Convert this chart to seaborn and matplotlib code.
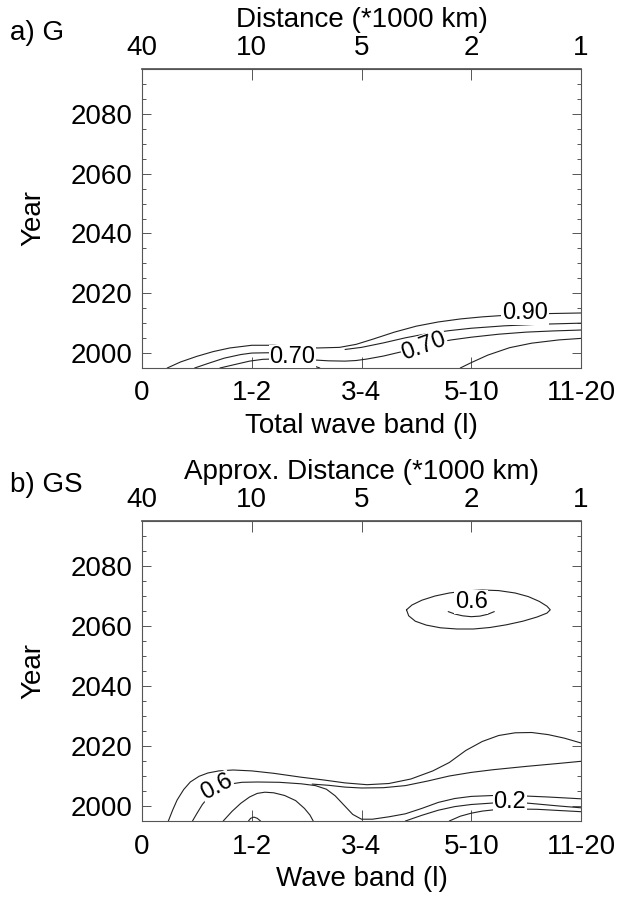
import numpy as np
import matplotlib
matplotlib.use("Agg")
import matplotlib.pyplot as plt
import seaborn as sns

# x positions 0..4 are the wave bands, top axis shows approx. distance
band_labels = ["0", "1-2", "3-4", "5-10", "11-20"]
dist_labels = ["40", "10", "5", "2", "1"]
year_ticks = [2000, 2020, 2040, 2060, 2080]

# ---- panel a) G : contour lines (band index, year)
g_090_x = [0.23, 0.35, 0.5, 0.65, 0.8, 1.0, 1.2, 1.4, 1.6, 1.8, 1.95, 2.1, 2.3, 2.5, 2.7, 2.9, 3.1, 3.3, 3.5, 3.7, 4.0]
g_090_y = [1995, 1997, 1998.9, 2000.5, 2001.7, 2002.6, 2002.6, 2002.1, 2001.7, 2001.9, 2002.9, 2004.6, 2007.0, 2009.0, 2010.4, 2011.4, 2012.1, 2012.6, 2013.0, 2013.2, 2013.4]
g_080_x = [1.85, 2.0, 2.2, 2.4, 2.6, 2.8, 3.0, 3.3, 3.6, 4.0]
g_080_y = [2001.2, 2001.9, 2003.4, 2005.1, 2006.5, 2007.5, 2008.3, 2009.1, 2009.6, 2010.0]
g_070_x = [0.48, 0.6, 0.75, 0.9, 1.0, 1.15, 1.3, 1.45, 1.56, 1.7, 1.85, 1.95, 2.05, 2.2, 2.35, 2.5, 2.65, 2.82, 3.0, 3.25, 3.5, 3.75, 4.0]
g_070_y = [1995, 1996.5, 1998.3, 1999.5, 2000.0, 2000.1, 1999.3, 1998.3, 1997.7, 1997.4, 1997.3, 1997.5, 1998.0, 1999.0, 2000.3, 2001.8, 2003.3, 2004.4, 2005.3, 2006.3, 2007.0, 2007.4, 2007.7]
g_060a_x = [0.71, 0.85, 0.98, 1.1, 1.2, 1.3, 1.4, 1.5, 1.58, 1.62]
g_060a_y = [1995, 1996.2, 1997.3, 1997.9, 1998.0, 1997.8, 1997.2, 1996.3, 1995.5, 1995]
g_060b_x = [2.9, 3.0, 3.15, 3.35, 3.55, 3.8, 4.0]
g_060b_y = [1995, 1996.8, 1999.3, 2001.8, 2003.3, 2004.4, 2004.9]

# ---- panel b) GS
gs_m1_x = [0.24, 0.28, 0.32, 0.38, 0.44, 0.52, 0.6, 0.7, 0.83, 1.0, 1.2, 1.45, 1.65, 1.85, 2.05, 2.25, 2.45, 2.65, 2.8, 2.95, 3.1, 3.25, 3.4, 3.55, 3.7, 3.85, 4.0]
gs_m1_y = [1995, 1998.7, 2002, 2005.5, 2008, 2009.9, 2011, 2011.7, 2012, 2011.7, 2010.9, 2009.6, 2008.7, 2007.7, 2007.1, 2007.5, 2009, 2011.7, 2014.5, 2018.5, 2021.5, 2023.5, 2024.4, 2024.5, 2023.8, 2022.6, 2021]
gs_m2_x = [0.46, 0.5, 0.55, 0.62, 0.7, 0.8, 0.91, 1.05, 1.25, 1.45, 1.58, 1.68, 1.76, 1.84, 1.92, 2.0, 2.1, 2.25, 2.4, 2.55, 2.7, 2.85, 3.0, 3.2, 3.45, 3.7, 4.0]
gs_m2_y = [1995, 1997.5, 2000.5, 2003.6, 2005.8, 2007.3, 2007.9, 2008.0, 2007.9, 2007.4, 2006.8, 2005.6, 2003.4, 2000.3, 1997.2, 1995.6, 1995.6, 1996.4, 1997.4, 1999.2, 2001.2, 2002.5, 2003.2, 2003.5, 2003.4, 2003.0, 2002.4]
gs_p_x = [1.55, 1.7, 1.85, 2.0, 2.2, 2.4, 2.6, 2.8, 3.0, 3.2, 3.5, 3.8, 4.0]
gs_p_y = [2007.3, 2006.9, 2006.3, 2006.0, 2006.1, 2006.8, 2008.3, 2010.0, 2011.2, 2012.1, 2013.2, 2014.2, 2014.9]
gs_m3_x = [0.74, 0.82, 0.9, 0.98, 1.05, 1.12, 1.2, 1.3, 1.4, 1.48, 1.53, 1.56]
gs_m3_y = [1995, 1998.2, 2000.9, 2003, 2004.2, 2004.6, 2004.4, 2003.5, 2001.8, 1999.2, 1997, 1995]
gs_m4_x = [0.97, 0.99, 1.02, 1.05, 1.08]
gs_m4_y = [1995, 1995.9, 1996.3, 1995.9, 1995]
gs_r_x = [2.4, 2.55, 2.7, 2.85, 3.0, 3.2, 3.35, 3.5, 3.65, 3.8, 4.0]
gs_r_y = [1995, 1996.9, 1998.6, 1999.8, 2000.5, 2001.0, 2001.2, 2001.0, 2000.5, 2000.0, 1999.4]
gs_s_x = [2.8, 2.9, 3.0, 3.1, 3.2, 3.4, 3.6, 3.8, 4.0]
gs_s_y = [1995, 1996.6, 1997.6, 1998.3, 1998.7, 1999.0, 1998.9, 1998.5, 1998.1]
gs_ell_x = [2.41, 2.46, 2.55, 2.67, 2.8, 2.95, 3.1, 3.25, 3.4, 3.52, 3.62, 3.69, 3.72, 3.69, 3.6, 3.47, 3.32, 3.17, 3.02, 2.87, 2.72, 2.59, 2.49, 2.43, 2.41]
gs_ell_y = [2065.4, 2067.0, 2068.6, 2070.0, 2071.0, 2071.7, 2072.0, 2071.8, 2071.0, 2069.8, 2068.2, 2066.6, 2065.4, 2064.3, 2063.0, 2061.6, 2060.4, 2059.5, 2059.0, 2059.0, 2059.4, 2060.3, 2061.6, 2063.4, 2065.4]
gs_in_x = [2.79, 2.85, 2.92, 3.0, 3.08, 3.15, 3.21]
gs_in_y = [2064.8, 2064.0, 2063.4, 2063.1, 2063.3, 2063.9, 2064.8]

LINE = "#222222"
SPINE = "#555555"
W, H = 629, 897

sns.set_theme(style="ticks")
plt.rcParams['font.family'] = ['Liberation Sans', 'DejaVu Sans']
plt.rcParams['text.color'] = 'black'
plt.rcParams['xtick.labelcolor'] = 'black'
plt.rcParams['ytick.labelcolor'] = 'black'

fig = plt.figure(figsize=(W / 100, H / 100), dpi=100)


def setup_axes(ax, xlabel, toplabel, tag, top_px, bottom_px):
    ax.set_xlim(0, 4)
    ax.set_ylim(1995, 2095)
    ax.set_xticks(range(5))
    ax.set_xticklabels(band_labels)
    ax.set_yticks(year_ticks)
    ax.set_yticks(np.arange(1995, 2096, 5), minor=True)
    ax.tick_params(axis='x', which='major', direction='in', length=8, width=0.7,
                   color=SPINE, labelsize=20, pad=9)
    ax.tick_params(axis='y', which='major', direction='in', length=6.5, width=0.7,
                   color=SPINE, labelsize=20, pad=7, right=True)
    ax.tick_params(axis='y', which='minor', direction='in', length=3, width=0.7,
                   color=SPINE, right=True)
    for sp in ax.spines.values():
        sp.set_color(SPINE)
        sp.set_linewidth(0.8)
    ax.set_xlabel("")
    ax.set_ylabel("")

    top = ax.secondary_xaxis('top')
    top.set_xticks(range(5))
    top.set_xticklabels(dist_labels)
    top.tick_params(direction='in', length=8, width=0.7, color=SPINE,
                    labelsize=20, pad=6)
    top.spines['top'].set_color(SPINE)

    cx = (142 + 581) / 2 / W
    fig.text(cx, 1 - (top_px - 49) / H, toplabel, ha='center', va='center', fontsize=20)
    fig.text(10 / W, 1 - (top_px - 36) / H, tag, ha='left', va='center', fontsize=20)
    fig.text(33 / W, 1 - (top_px + bottom_px) / 2 / H, "Year", ha='center', va='center',
             rotation=90, fontsize=20)
    fig.text(cx, 1 - (bottom_px + 58) / H, xlabel, ha='center', va='center', fontsize=20)


def draw(ax, xs, ys):
    sns.lineplot(x=xs, y=ys, sort=False, estimator=None, color=LINE,
                 linewidth=0.8, ax=ax, legend=False)


def clabel(ax, x, y, text, rot=0):
    ax.text(x, y, text, ha='center', va='center', rotation=rot, fontsize=17,
            color='black', zorder=5,
            bbox=dict(facecolor='white', edgecolor='none', pad=0.5))


# panel a
ax_a = fig.add_axes([142 / W, 1 - 368 / H, 439 / W, 299 / H])
for xs, ys in [(g_090_x, g_090_y), (g_080_x, g_080_y), (g_070_x, g_070_y),
               (g_060a_x, g_060a_y), (g_060b_x, g_060b_y)]:
    draw(ax_a, xs, ys)
clabel(ax_a, 3.49, 2013.3, "0.90")
clabel(ax_a, 1.37, 1998.8, "0.70")
clabel(ax_a, 2.57, 2002.3, "0.70", rot=20)
setup_axes(ax_a, "Total wave band (l)", "Distance (*1000 km)", "a) G", 69, 368)

# panel b
ax_b = fig.add_axes([142 / W, 1 - 821 / H, 439 / W, 300 / H])
for xs, ys in [(gs_m1_x, gs_m1_y), (gs_m2_x, gs_m2_y), (gs_p_x, gs_p_y),
               (gs_m3_x, gs_m3_y), (gs_m4_x, gs_m4_y), (gs_r_x, gs_r_y),
               (gs_s_x, gs_s_y), (gs_ell_x, gs_ell_y), (gs_in_x, gs_in_y)]:
    draw(ax_b, xs, ys)
clabel(ax_b, 0.68, 2006.2, "0.6", rot=28)
clabel(ax_b, 3.35, 2001.2, "0.2")
clabel(ax_b, 3.0, 2068.0, "0.6")
setup_axes(ax_b, "Wave band (l)", "Approx. Distance (*1000 km)", "b) GS", 521, 821)

fig.savefig("out.png", dpi=100, facecolor='white')
